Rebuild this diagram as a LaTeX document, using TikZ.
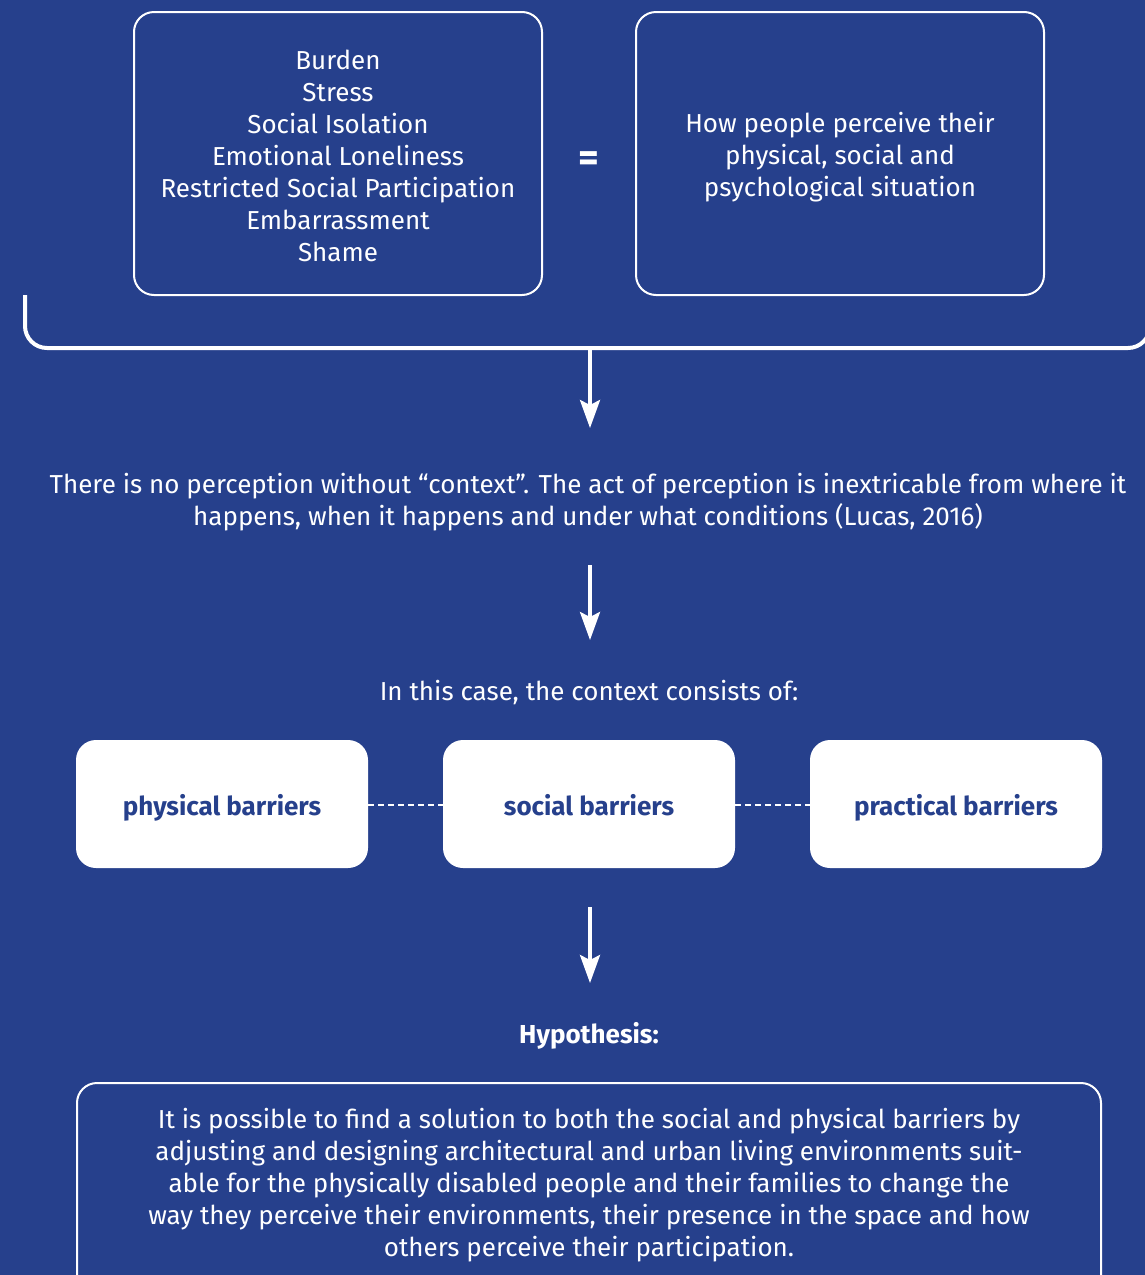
\documentclass[tikz,border=0pt]{standalone}
\usepackage{fontspec}
\setmainfont{Fira Sans}
\usetikzlibrary{arrows.meta}
\definecolor{navy}{RGB}{38,64,140}
\begin{document}
\begin{tikzpicture}[x=1pt,y=-1pt,
  txt/.style={text=white,align=center,font=\fontsize{26}{32}\selectfont,inner sep=0pt},
  outlinebox/.style={draw=white,line width=2pt,rounded corners=20pt,minimum width=408pt,minimum height=283pt,anchor=center,inner sep=0pt},
  barrier/.style={fill=white,rounded corners=20pt,minimum width=292pt,minimum height=128pt,text=navy,font=\fontsize{26}{32}\selectfont\bfseries,inner sep=0pt,text height=25pt,text depth=2pt},
  flow/.style={draw=white,line width=3.5pt,-{Stealth[length=28pt,width=20pt,inset=5pt]}},
  link/.style={draw=white,line width=2pt,dash pattern=on 6pt off 4pt}]
\useasboundingbox[fill=navy] (0,0) rectangle (1145,1275);
\begin{scope}
\clip (0,0) rectangle (1145,1275);

% top pair of outlined boxes
\node[outlinebox] (factors) at (338,153.5) {};
\node[txt] (factorstxt) at (338,156) {Burden\\Stress\\Social Isolation\\Emotional Loneliness\\Restricted Social Participation\\Embarrassment\\Shame};
\node[txt,font=\fontsize{40}{40}\selectfont\bfseries] (eq) at (589,162) {=};
\node[outlinebox] (perceive) at (840,153.5) {};
\node[txt] (perceivetxt) at (840,157) {How people perceive their\\physical, social and\\psychological situation};

% bracket under the pair
\draw[white,line width=4pt,rounded corners=22pt] (25,295) -- (25,348) -- (1150,348) -- (1150,290);
\coordinate (brk) at (590,348);
\coordinate (a1) at (590,428);
\draw[flow] (brk) -- (a1);

\node[txt] (context) at (588,502) {There is no perception without “context”. The act of perception is inextricable from where it\\happens, when it happens and under what conditions (Lucas, 2016)};

\coordinate (a2s) at (590,565);
\coordinate (a2e) at (590,640);
\draw[flow] (a2s) -- (a2e);

\node[txt] (consists) at (589,693) {In this case, the context consists of:};

% barrier boxes
\node[barrier] (phys) at (222,804) {physical barriers};
\node[barrier] (soc) at (589,804) {social barriers};
\node[barrier] (prac) at (956,804) {practical barriers};
\draw[link] ([yshift=-1pt]phys.east) -- ([yshift=-1pt]soc.west);
\draw[link] ([yshift=-1pt]soc.east) -- ([yshift=-1pt]prac.west);

\coordinate (a3s) at (590,907);
\coordinate (a3e) at (590,983);
\draw[flow] (a3s) -- (a3e);

\node[txt,font=\fontsize{26}{32}\selectfont\bfseries] (hyp) at (589,1036) {Hypothesis:};

% hypothesis box, running past the lower edge
\node[outlinebox,minimum width=1024pt,minimum height=240pt] (hypbox) at (589,1203) {};
\node[txt] (hyptxt) at (589,1185) {It is possible to find a solution to both the social and physical barriers by\\adjusting and designing architectural and urban living environments suit-\\able for the physically disabled people and their families to change the\\way they perceive their environments, their presence in the space and how\\others perceive their participation.};
\end{scope}
\end{tikzpicture}
\end{document}
